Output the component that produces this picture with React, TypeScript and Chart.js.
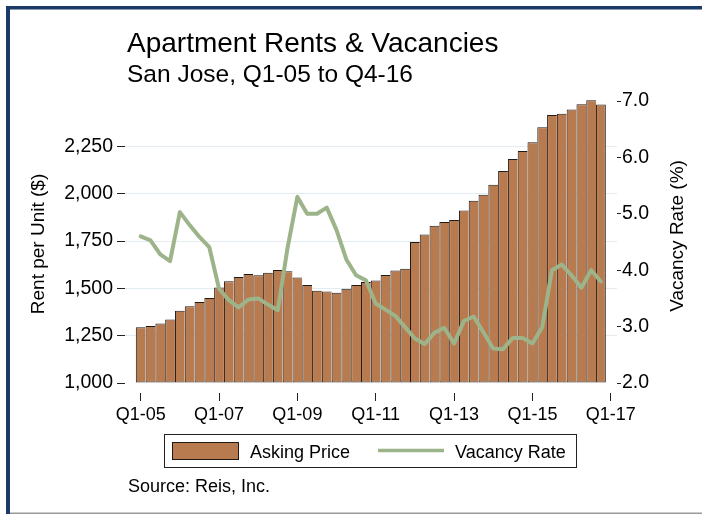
import React, { useEffect, useRef } from 'react';
import { Chart, registerables } from 'chart.js';

Chart.register(...registerables);

// ---------- data ----------
const TITLE = 'Apartment Rents & Vacancies';
const SUBTITLE = 'San Jose, Q1-05 to Q4-16';
const SOURCE = 'Source: Reis, Inc.';
const LEFT_TITLE = 'Rent per Unit ($)';
const RIGHT_TITLE = 'Vacancy Rate (%)';
const SERIES_NAMES = ['Asking Price', 'Vacancy Rate'];

// quarterly, Q1-05 .. Q4-16 (48 quarters)
const ASKING_PRICE = [
  1294, 1301, 1315, 1335, 1382, 1405, 1428, 1449,
  1504, 1537, 1560, 1576, 1569, 1583, 1597, 1590,
  1558, 1518, 1488, 1484, 1477, 1498, 1518, 1534,
  1542, 1571, 1595, 1603, 1745, 1785, 1831, 1851,
  1861, 1912, 1963, 1995, 2048, 2120, 2184, 2226,
  2272, 2351, 2416, 2423, 2445, 2473, 2494, 2471,
];
const VACANCY_RATE = [
  4.60, 4.53, 4.28, 4.16, 5.03, 4.80, 4.59, 4.41,
  3.67, 3.47, 3.34, 3.48, 3.50, 3.39, 3.29, 4.40,
  5.30, 5.00, 5.00, 5.11, 4.71, 4.19, 3.91, 3.82,
  3.41, 3.30, 3.19, 2.99, 2.79, 2.69, 2.89, 2.98,
  2.70, 3.10, 3.18, 2.90, 2.61, 2.60, 2.80, 2.80,
  2.70, 2.99, 4.00, 4.10, 3.91, 3.69, 4.00, 3.80,
];
const X_TICK_POS = [0, 8, 16, 24, 32, 40, 48];
const X_TICK_LABELS = ['Q1-05', 'Q1-07', 'Q1-09', 'Q1-11', 'Q1-13', 'Q1-15', 'Q1-17'];
const LEFT_TICKS = [1000, 1250, 1500, 1750, 2000, 2250];
const RIGHT_TICKS = [2, 3, 4, 5, 6, 7];

// ---------- styles ----------
const FONT = "'Liberation Sans', Arial, Helvetica, sans-serif";
const BAR_FILL = '#b87a4f';
const BAR_EDGE = '#1f1a16';
const LINE_COLOR = '#9db48a';
const NAVY = '#1c3a68';
const GRID = '#e3ecf1';

const W = 702;
const H = 514;

const decor = {
  id: 'decor',
  beforeDraw(chart: any) {
    const c = chart.ctx;
    c.save();
    c.fillStyle = '#ffffff';
    c.fillRect(0, 0, chart.width, chart.height);
    c.fillStyle = NAVY;
    c.fillRect(6, 6, W - 6, 3.5);
    c.fillRect(6, 6, 4, H - 6);
    c.fillStyle = '#9a9a9a';
    c.fillRect(10, 512.5, W - 10, 1.5);
    c.restore();
  },
  afterDraw(chart: any) {
    const c = chart.ctx;
    c.save();
    c.fillStyle = '#000';
    c.textAlign = 'left';
    c.textBaseline = 'alphabetic';
    c.font = `28px ${FONT}`;
    c.fillText(TITLE, 127, 52);
    c.font = `24.5px ${FONT}`;
    c.fillText(SUBTITLE, 127, 82);

    // axis titles (both read bottom-to-top)
    c.font = `19px ${FONT}`;
    c.textAlign = 'center';
    c.textBaseline = 'middle';
    c.save();
    c.translate(39, 244);
    c.rotate(-Math.PI / 2);
    c.fillText(LEFT_TITLE, 0, 0);
    c.restore();
    c.save();
    c.translate(678, 236);
    c.rotate(-Math.PI / 2);
    c.fillText(RIGHT_TITLE, 0, 0);
    c.restore();

    // legend
    c.strokeStyle = '#222';
    c.lineWidth = 1;
    c.strokeRect(164.5, 434.5, 412, 33);
    c.fillStyle = BAR_FILL;
    c.fillRect(172, 442, 67, 18);
    c.strokeStyle = BAR_EDGE;
    c.strokeRect(172.5, 442.5, 66, 17);
    c.strokeStyle = LINE_COLOR;
    c.lineWidth = 3.5;
    c.beginPath();
    c.moveTo(378, 450.5);
    c.lineTo(444, 450.5);
    c.stroke();
    c.fillStyle = '#000';
    c.font = `18px ${FONT}`;
    c.textAlign = 'left';
    c.textBaseline = 'alphabetic';
    c.fillText(SERIES_NAMES[0], 250, 458);
    c.fillText(SERIES_NAMES[1], 455, 458);

    // source
    c.fillText(SOURCE, 128, 492);
    c.restore();
  },
};

export default function App() {
  const ref = useRef<HTMLCanvasElement | null>(null);

  useEffect(() => {
    if (!ref.current) return;
    Chart.defaults.font.family = FONT;
    Chart.defaults.color = '#000';
    const xs = ASKING_PRICE.map((_, i) => i);
    const lastBar = ASKING_PRICE.length - 1;

    const chart = new Chart(ref.current, {
      type: 'bar',
      data: {
        datasets: [
          {
            type: 'bar',
            label: SERIES_NAMES[0],
            data: xs.map((x) => ({ x, y: ASKING_PRICE[x] })),
            yAxisID: 'y',
            backgroundColor: BAR_FILL,
            borderColor: BAR_EDGE,
            borderWidth: (ctx: any) => ({
              top: 1,
              bottom: 1,
              left: 1,
              right: ctx.dataIndex === lastBar ? 1 : 0,
            }),
            borderSkipped: false,
            inflateAmount: 0,
            base: 1000,
            barPercentage: 1,
            categoryPercentage: 1,
            order: 2,
          } as any,
          {
            type: 'line',
            label: SERIES_NAMES[1],
            data: xs.map((x) => ({ x, y: VACANCY_RATE[x] })),
            yAxisID: 'y1',
            borderColor: LINE_COLOR,
            borderWidth: 4,
            pointRadius: 0,
            tension: 0,
            borderJoinStyle: 'round',
            borderCapStyle: 'round',
            order: 1,
          } as any,
        ],
      },
      options: {
        responsive: false,
        animation: false,
        devicePixelRatio: 1,
        layout: { padding: { top: 96, left: 0, right: 0, bottom: 0 } },
        plugins: {
          legend: { display: false },
          tooltip: { enabled: false },
          title: { display: false },
        },
        scales: {
          x: {
            type: 'linear',
            position: 'bottom',
            min: -1.603,
            max: 48.64,
            offset: false,
            border: { display: false },
            grid: {
              offset: false,
              drawOnChartArea: false,
              drawTicks: true,
              tickLength: 8,
              tickColor: '#222',
            },
            ticks: {
              autoSkip: false,
              maxRotation: 0,
              minRotation: 0,
              padding: 3,
              font: { size: 18 },
              color: '#000',
              callback: (v: any) => {
                const k = X_TICK_POS.indexOf(Number(v));
                return k >= 0 ? X_TICK_LABELS[k] : '';
              },
            },
            afterBuildTicks: (s: any) => {
              s.ticks = X_TICK_POS.map((value) => ({ value }));
            },
            afterFit: (s: any) => {
              s.height = 121;
            },
          },
          y: {
            type: 'linear',
            position: 'left',
            min: 947.17,
            max: 2516.3,
            border: { display: false },
            grid: {
              color: (ctx: any) => (ctx.tick && ctx.tick.value === 1000 ? 'rgba(0,0,0,0)' : GRID),
              lineWidth: 1,
              drawTicks: true,
              tickLength: 8,
              tickColor: '#222',
            },
            ticks: {
              padding: 4,
              font: { size: 19.5 },
              color: '#000',
              callback: (v: any) => Number(v).toLocaleString('en-US'),
            },
            afterBuildTicks: (s: any) => {
              s.ticks = LEFT_TICKS.map((value) => ({ value }));
            },
            afterFit: (s: any) => {
              s.width = 125;
            },
          },
          y1: {
            type: 'linear',
            position: 'right',
            min: 1.8227,
            max: 7.0887,
            border: { display: false },
            grid: {
              drawOnChartArea: false,
              drawTicks: true,
              tickLength: 4,
              tickColor: '#222',
            },
            ticks: {
              padding: 1,
              font: { size: 19.5 },
              color: '#000',
              callback: (v: any) => Number(v).toFixed(1),
            },
            afterBuildTicks: (s: any) => {
              s.ticks = RIGHT_TICKS.map((value) => ({ value }));
            },
            afterFit: (s: any) => {
              s.width = W - 617;
            },
          },
        },
      },
      plugins: [decor],
    } as any);

    return () => chart.destroy();
  }, []);

  return (
    <div style={{ position: 'absolute', left: 0, top: 0, width: W, height: H, background: '#fff' }}>
      <canvas ref={ref} width={W} height={H} style={{ display: 'block', width: W, height: H }} />
    </div>
  );
}
